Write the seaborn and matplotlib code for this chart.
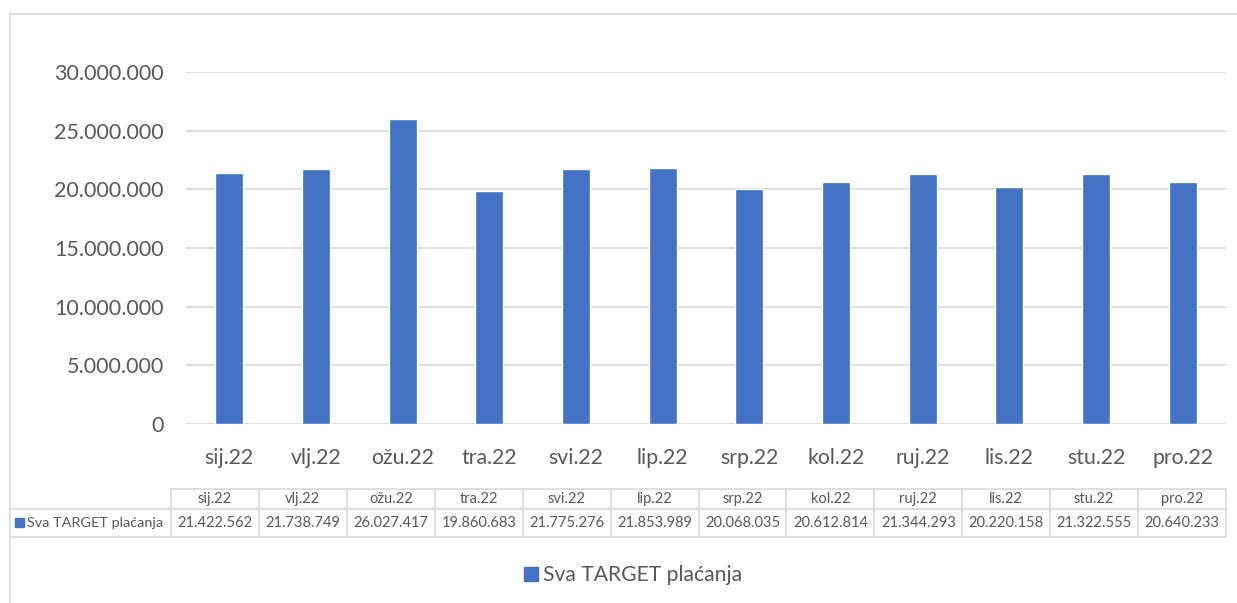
import matplotlib
matplotlib.use("Agg")
import matplotlib.pyplot as plt
from matplotlib.lines import Line2D
from matplotlib.patches import Rectangle
import seaborn as sns
import pandas as pd

months = ["sij.22", "vlj.22", "ožu.22", "tra.22", "svi.22", "lip.22",
          "srp.22", "kol.22", "ruj.22", "lis.22", "stu.22", "pro.22"]
values = [21422562, 21738749, 26027417, 19860683, 21775276, 21853989,
          20068035, 20612814, 21344293, 20220158, 21322555, 20640233]
series_name = "Sva TARGET plaćanja"
yticks = [0, 5000000, 10000000, 15000000, 20000000, 25000000, 30000000]

BAR = "#4472C4"
TXT = "#595959"
GRID = "#D9D9D9"
W, H = 1237, 603


def fmt(v):
    return f"{v:,}".replace(",", ".")


sns.set_theme(style="white")
plt.rcParams["font.family"] = ["Lato", "DejaVu Sans"]

fig = plt.figure(figsize=(W / 100, H / 100), dpi=100)
fig.patch.set_facecolor("white")


def fx(px):
    return px / W


def fy(py):
    return 1 - py / H


ax = fig.add_axes([fx(186), fy(424), fx(1226) - fx(186), fy(72) - fy(424)])
df = pd.DataFrame({"month": months, "value": values})
sns.barplot(data=df, x="month", y="value", color=BAR, width=0.32,
            saturation=1, ax=ax, zorder=3)
ax.set_ylim(0, 30000000)
ax.set_xlim(-0.5, len(months) - 0.5)
ax.set_yticks(yticks)
ax.set_yticklabels([fmt(t) for t in yticks])
ax.set_xlabel("")
ax.set_ylabel("")
ax.yaxis.grid(True, color=GRID, linewidth=1.2, zorder=0)
ax.set_axisbelow(True)
for s in ax.spines.values():
    s.set_visible(False)
ax.tick_params(axis="y", length=0, pad=16, labelsize=15.5, labelcolor=TXT)
ax.tick_params(axis="x", length=0, pad=17, labelsize=15.3, labelcolor=TXT)
ax.set_facecolor("none")

# outer chart border
fig.add_artist(Line2D([fx(10), fx(10)], [fy(14), 0], transform=fig.transFigure, color=GRID, lw=1.2))
fig.add_artist(Line2D([fx(10), 1], [fy(14), fy(14)], transform=fig.transFigure, color=GRID, lw=1.2))

# data table
x0, x1 = 171, 1226
colw = (x1 - x0) / len(months)
ytop, ymid, ybot = 489, 509, 537
tl = dict(transform=fig.transFigure, color=GRID, lw=1.2)
fig.add_artist(Line2D([fx(x0), fx(x1)], [fy(ytop), fy(ytop)], **tl))
fig.add_artist(Line2D([fx(10), fx(x1)], [fy(ymid), fy(ymid)], **tl))
fig.add_artist(Line2D([fx(10), fx(x1)], [fy(ybot), fy(ybot)], **tl))
for i in range(len(months) + 1):
    xx = x0 + i * colw
    fig.add_artist(Line2D([fx(xx), fx(xx)], [fy(ytop), fy(ybot)], **tl))
for i, (m, v) in enumerate(zip(months, values)):
    cx = x0 + (i + 0.5) * colw
    fig.text(fx(cx), fy((ytop + ymid) / 2), m, ha="center", va="center",
             fontsize=10.5, color=TXT)
    fig.text(fx(cx), fy((ymid + ybot) / 2), fmt(v), ha="center", va="center",
             fontsize=10.5, color=TXT)
# row label with key
fig.add_artist(Rectangle((fx(15), fy(527)), fx(9), fy(518) - fy(527),
                         transform=fig.transFigure, color=BAR))
fig.text(fx(27), fy((ymid + ybot) / 2), series_name, ha="left", va="center",
         fontsize=10.4, color=TXT)

# legend
fig.add_artist(Rectangle((fx(524), fy(581)), fx(14), fy(567) - fy(581),
                         transform=fig.transFigure, color=BAR))
fig.text(fx(543), fy(575), series_name, ha="left", va="center",
         fontsize=15.2, color=TXT)

fig.savefig("out.png", dpi=100, facecolor="white")
